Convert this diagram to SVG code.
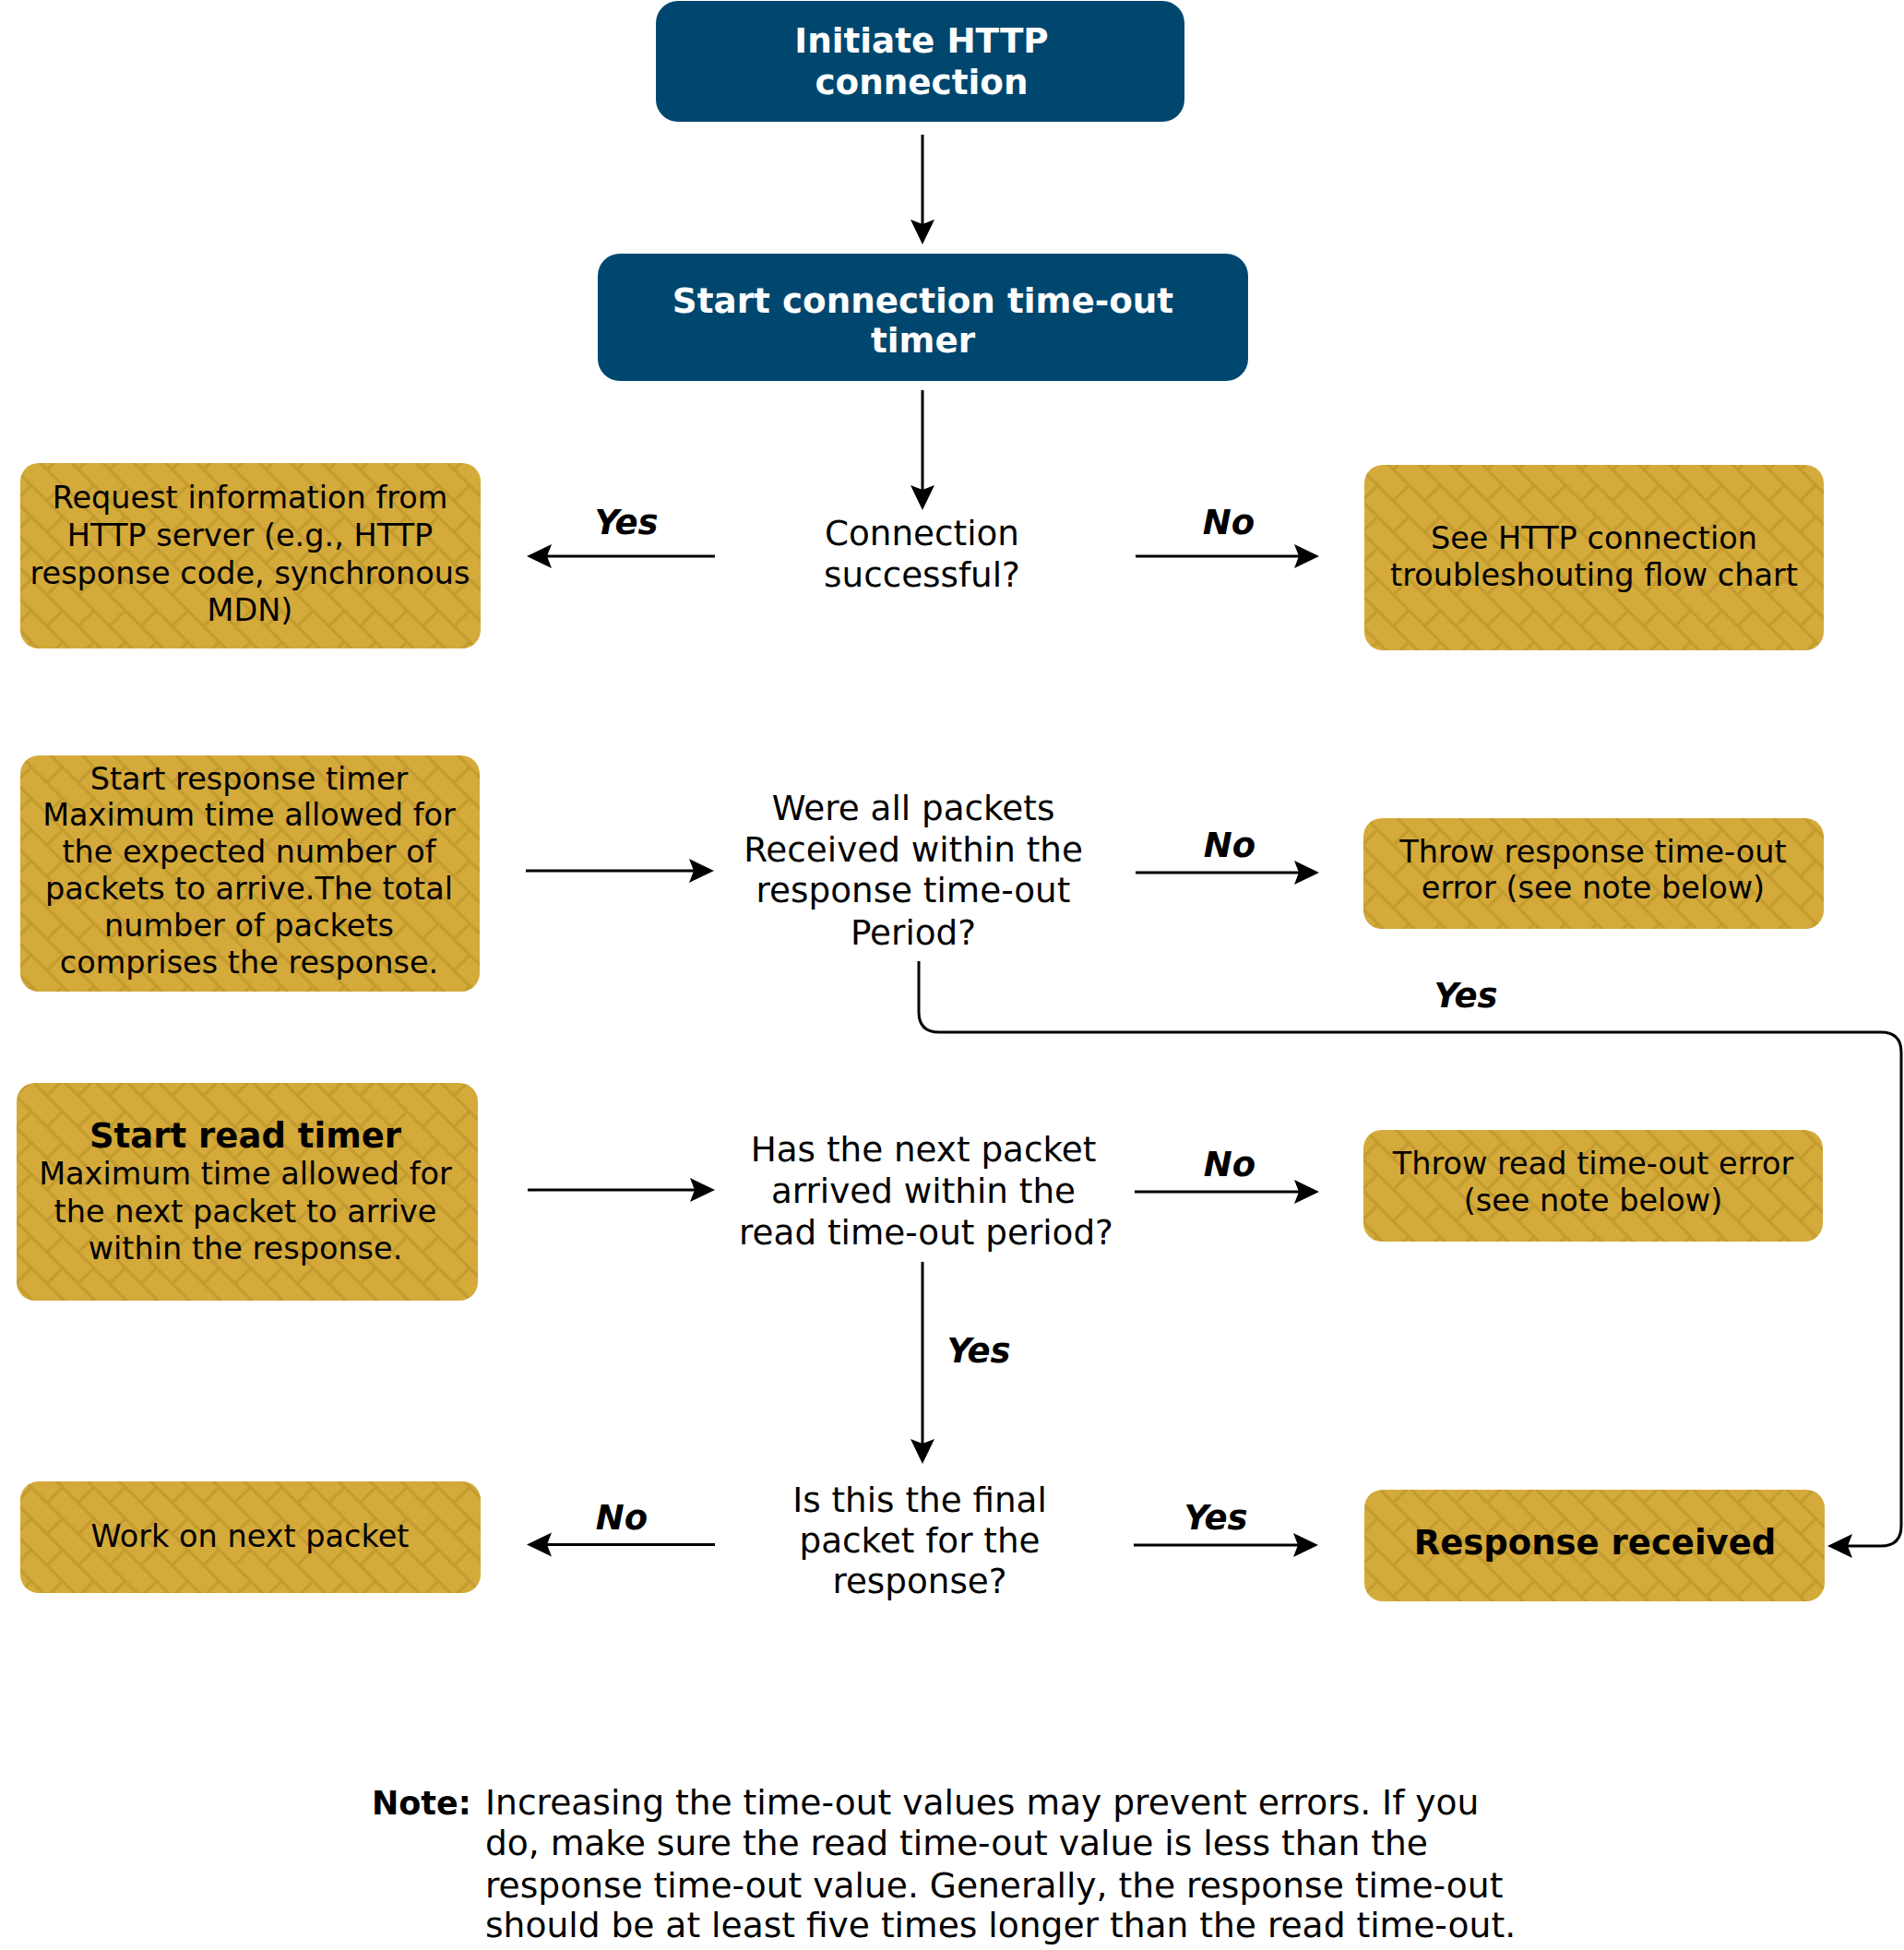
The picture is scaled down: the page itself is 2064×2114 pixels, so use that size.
<svg xmlns="http://www.w3.org/2000/svg" width="2064" height="2114" viewBox="0 0 2064 2114">
<style>
text{font-family:"DejaVu Sans","Liberation Sans",sans-serif;fill:#000;text-anchor:middle}
.blue{fill:#00476F}
.gold{fill:url(#brick)}
.wt{fill:#fff;font-weight:bold;font-size:37.3px}
.bx{font-size:33.5px}
.dq{font-size:37.3px}
.bb{font-size:37px;font-weight:bold}
.lbl{font-size:37px;font-weight:bold;font-style:italic}
.note{font-size:37.6px;text-anchor:start}
.nh{font-size:35px;font-weight:bold;text-anchor:start}
.cn{fill:none;stroke:#000;stroke-width:3}
.ar{marker-end:url(#ah)}
</style>
<defs>
<pattern id="brick" patternUnits="userSpaceOnUse" width="48" height="48" patternTransform="rotate(45)">
<rect width="48" height="48" fill="#D4AA3A"/>
<path d="M0,12H48M0,36H48M12,12V36M36,36V48M36,0V12" stroke="#C39A2E" stroke-width="3" fill="none"/>
</pattern>
<marker id="ah" markerUnits="userSpaceOnUse" markerWidth="30" markerHeight="30" refX="23" refY="13" orient="auto">
<path d="M0,0L27,13L0,26L5,13Z" fill="#000"/>
</marker>
</defs>
<rect width="2064" height="2114" fill="#fff"/>

<g id="connectors">
<path class="cn ar" d="M1000,146V261"/>
<path class="cn ar" d="M1000,423V549"/>
<path class="cn ar" d="M775,603H575"/>
<path class="cn ar" d="M1231,603H1426"/>
<path class="cn ar" d="M570,944H770"/>
<path class="cn ar" d="M1231,946H1426"/>
<path class="cn ar" d="M996,1042V1097Q996,1119 1018,1119H2039Q2061,1119 2061,1141V1654Q2061,1676 2039,1676H1985"/>
<path class="cn ar" d="M572,1290H771"/>
<path class="cn ar" d="M1230,1292H1426"/>
<path class="cn ar" d="M1000,1368V1583"/>
<path class="cn ar" d="M775,1674.5H575"/>
<path class="cn ar" d="M1229,1675H1425"/>
<text class="lbl" x="679" y="579">Yes</text>
<text class="lbl" x="1332" y="579">No</text>
<text class="lbl" x="1333" y="929">No</text>
<text class="lbl" x="1589" y="1092">Yes</text>
<text class="lbl" x="1333" y="1275">No</text>
<text class="lbl" x="1061" y="1477">Yes</text>
<text class="lbl" x="674" y="1658">No</text>
<text class="lbl" x="1318" y="1658">Yes</text>
</g>

<g id="initiate">
<rect class="blue" x="711" y="1" width="573" height="131" rx="24"/>
<text class="wt" x="999" y="57">Initiate HTTP</text>
<text class="wt" x="999" y="102">connection</text>
</g>

<g id="start-timer">
<rect class="blue" x="648" y="275" width="705" height="138" rx="24"/>
<text class="wt" x="1000.5" y="339">Start connection time-out</text>
<text class="wt" x="1000.5" y="382">timer</text>
</g>

<g id="q-connection">
<text class="dq" x="999.5" y="591">Connection</text>
<text class="dq" x="999.5" y="636">successful?</text>
</g>

<g id="request-info">
<rect class="gold" x="22" y="502" width="499" height="201" rx="20"/>
<text class="bx" x="271" y="551">Request information from</text>
<text class="bx" x="271" y="592">HTTP server (e.g., HTTP</text>
<text class="bx" x="271" y="633">response code, synchronous</text>
<text class="bx" x="271" y="673">MDN)</text>
</g>

<g id="see-http">
<rect class="gold" x="1479" y="504" width="498" height="201" rx="20"/>
<text class="bx" x="1728" y="595">See HTTP connection</text>
<text class="bx" x="1728" y="634.5">troubleshouting flow chart</text>
</g>

<g id="response-timer">
<rect class="gold" x="22" y="819" width="498" height="256" rx="20"/>
<text class="bx" x="270" y="856">Start response timer</text>
<text class="bx" x="270" y="895">Maximum time allowed for</text>
<text class="bx" x="270" y="935">the expected number of</text>
<text class="bx" x="270" y="975">packets to arrive.The total</text>
<text class="bx" x="270" y="1015">number of packets</text>
<text class="bx" x="270" y="1055">comprises the response.</text>
</g>

<g id="q-all-packets">
<text class="dq" x="990" y="889">Were all packets</text>
<text class="dq" x="990" y="933.5">Received within the</text>
<text class="dq" x="990" y="978">response time-out</text>
<text class="dq" x="990" y="1024">Period?</text>
</g>

<g id="throw-response">
<rect class="gold" x="1478" y="887" width="499" height="120" rx="20"/>
<text class="bx" x="1727" y="934.5">Throw response time-out</text>
<text class="bx" x="1727" y="974">error (see note below)</text>
</g>

<g id="read-timer">
<rect class="gold" x="18" y="1174" width="500" height="236" rx="20"/>
<text class="bb" x="266" y="1243.6">Start read timer</text>
<text class="bx" x="266" y="1284">Maximum time allowed for</text>
<text class="bx" x="266" y="1324.5">the next packet to arrive</text>
<text class="bx" x="266" y="1364.7">within the response.</text>
</g>

<g id="q-next-packet">
<text class="dq" x="1001" y="1259">Has the next packet</text>
<text class="dq" x="1001" y="1304">arrived within the</text>
<text class="dq" x="1004" y="1348.5">read time-out period?</text>
</g>

<g id="throw-read">
<rect class="gold" x="1478" y="1225" width="498" height="121" rx="20"/>
<text class="bx" x="1727" y="1272.6">Throw read time-out error</text>
<text class="bx" x="1727" y="1312.8">(see note below)</text>
</g>

<g id="q-final">
<text class="dq" x="997" y="1638.5">Is this the final</text>
<text class="dq" x="997" y="1683">packet for the</text>
<text class="dq" x="997" y="1727">response?</text>
</g>

<g id="work-next">
<rect class="gold" x="22" y="1606" width="499" height="121" rx="20"/>
<text class="bx" x="271" y="1676.6">Work on next packet</text>
</g>

<g id="received">
<rect class="gold" x="1479" y="1615" width="499" height="121" rx="20"/>
<text class="bb" x="1729" y="1685">Response received</text>
</g>

<g id="note">
<text class="nh" x="403" y="1967">Note:</text>
<text class="note" x="526" y="1967">Increasing the time-out values may prevent errors. If you</text>
<text class="note" x="526" y="2011">do, make sure the read time-out value is less than the</text>
<text class="note" x="526" y="2056.5">response time-out value. Generally, the response time-out</text>
<text class="note" x="526" y="2100">should be at least five times longer than the read time-out.</text>
</g>
</svg>
